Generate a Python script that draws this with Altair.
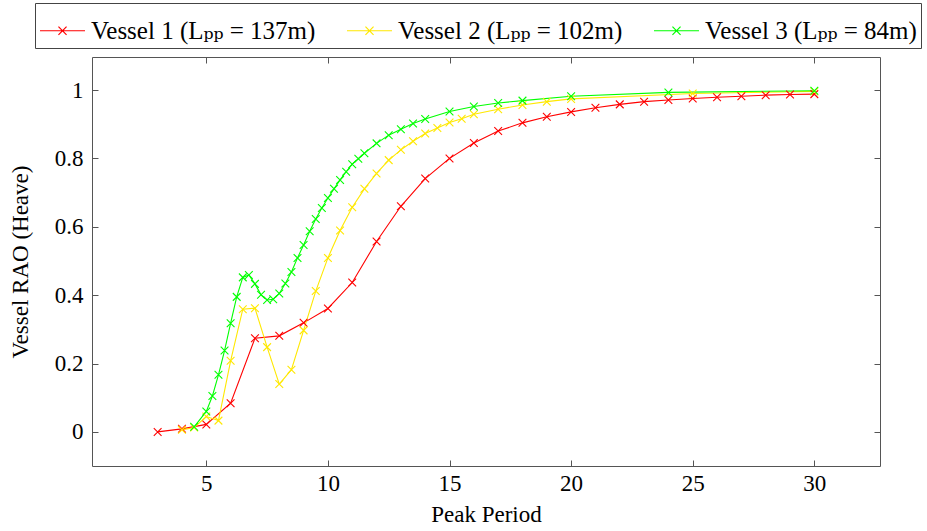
import altair as alt
import pandas as pd

# ---- data ----
v1_period = [3, 4, 5, 6, 7, 8, 9, 10, 11, 12, 13, 14, 15, 16, 17, 18, 19, 20,
             21, 22, 23, 24, 25, 26, 27, 28, 29, 30]
v1_rao = [0.0, 0.009, 0.022, 0.084, 0.274, 0.281, 0.319, 0.361, 0.437, 0.557,
          0.660, 0.741, 0.800, 0.845, 0.880, 0.904, 0.922, 0.936, 0.948, 0.958,
          0.966, 0.971, 0.975, 0.979, 0.982, 0.985, 0.987, 0.988]

v2_period = [4, 4.5, 5, 5.5, 6, 6.5, 7, 7.5, 8, 8.5, 9, 9.5, 10, 10.5, 11, 11.5,
             12, 12.5, 13, 13.5, 14, 14.5, 15, 15.5, 16, 17, 18, 19, 20, 25, 30]
v2_rao = [0.006, 0.013, 0.045, 0.033, 0.208, 0.359, 0.362, 0.248, 0.140, 0.182,
          0.297, 0.412, 0.509, 0.589, 0.657, 0.711, 0.756, 0.795, 0.825, 0.850,
          0.873, 0.889, 0.905, 0.916, 0.929, 0.944, 0.956, 0.966, 0.974, 0.990,
          0.996]

v3_period = [4.5, 5, 5.25, 5.5, 5.75, 6, 6.25, 6.5, 6.75, 7, 7.25, 7.5, 7.75, 8,
             8.25, 8.5, 8.75, 9, 9.25, 9.5, 9.75, 10, 10.25, 10.5, 10.75, 11,
             11.25, 11.5, 12, 12.5, 13, 13.5, 14, 15, 16, 17, 18, 20, 24, 30]
v3_rao = [0.015, 0.060, 0.105, 0.167, 0.238, 0.318, 0.395, 0.452, 0.459, 0.433,
          0.401, 0.386, 0.388, 0.405, 0.434, 0.468, 0.509, 0.547, 0.587, 0.623,
          0.655, 0.684, 0.711, 0.737, 0.761, 0.783, 0.799, 0.815, 0.844, 0.868,
          0.885, 0.902, 0.915, 0.937, 0.952, 0.962, 0.969, 0.982, 0.993, 0.998]

series_names = ["Vessel 1 (Lₚₚ = 137m)", "Vessel 2 (Lₚₚ = 102m)",
                "Vessel 3 (Lₚₚ = 84m)"]
series_colors = ["#ff0000", "#ffe800", "#00ff00"]

x_ticks = [5, 10, 15, 20, 25, 30]
y_ticks = [0, 0.2, 0.4, 0.6, 0.8, 1]

rows = []
for order, (name, ps, rs) in enumerate(zip(series_names,
                                           [v1_period, v2_period, v3_period],
                                           [v1_rao, v2_rao, v3_rao])):
    for p, r in zip(ps, rs):
        rows.append({"series": name, "period": p, "rao": r, "order": order})
df = pd.DataFrame(rows)

FONT = "Liberation Serif, DejaVu Serif, serif"
FS = 23
LFS = 25
FRAME = "#555555"
XPATH = "M-1,-1L1,1M-1,1L1,-1"
LEGEND_SYMBOL = "M-1,0H1M-0.18,-0.18L0.18,0.18M-0.18,0.18L0.18,-0.18"

xscale = alt.Scale(domain=[0.3, 32.7], nice=False, zero=False)
yscale = alt.Scale(domain=[-0.0997, 1.0966], nice=False, zero=False)

color_scale = alt.Scale(domain=series_names, range=series_colors)

base = alt.Chart(df)

lines = base.mark_line(strokeWidth=1.1).encode(
    x=alt.X("period:Q", scale=xscale, title="Peak Period",
            axis=alt.Axis(orient="bottom", values=x_ticks, format="d",
                          offset=-6, tickSize=6, domain=False, grid=False,
                          tickColor=FRAME, labelPadding=6, titlePadding=8)),
    y=alt.Y("rao:Q", scale=yscale, title="Vessel RAO (Heave)",
            axis=alt.Axis(orient="left", values=y_ticks, format="~g",
                          offset=-6, tickSize=6, domain=False, grid=False,
                          tickColor=FRAME, labelPadding=9, titlePadding=22)),
    color=alt.Color("series:N", scale=color_scale, sort=series_names,
                    legend=alt.Legend(
                        title=None, orient="none", legendX=-57, legendY=-54,
                        direction="horizontal", symbolType=LEGEND_SYMBOL,
                        symbolSize=2025, symbolStrokeWidth=1.2,
                        strokeColor="#444444", fillColor="white", padding=4,
                        columnPadding=28, labelOffset=5, labelFont=FONT,
                        labelFontSize=LFS, labelColor="black", labelLimit=400)),
    order=alt.Order("order:Q"),
)

points = base.mark_point(shape=XPATH, size=60, filled=False, strokeWidth=1.1,
                         opacity=1).encode(
    x=alt.X("period:Q", scale=xscale, axis=None),
    y=alt.Y("rao:Q", scale=yscale, axis=None),
    color=alt.Color("series:N", scale=color_scale, sort=series_names,
                    legend=None),
)

frame_axes = base.mark_point(opacity=0).encode(
    x=alt.X("period:Q", scale=xscale, title=None,
            axis=alt.Axis(orient="top", values=x_ticks, labels=False,
                          offset=-6, tickSize=6, domain=False, grid=False,
                          tickColor=FRAME)),
    y=alt.Y("rao:Q", scale=yscale, title=None,
            axis=alt.Axis(orient="right", values=y_ticks, labels=False,
                          offset=-6, tickSize=6, domain=False, grid=False,
                          tickColor=FRAME)),
)

chart = alt.layer(lines, points, frame_axes).resolve_axis(
    x="independent", y="independent"
).properties(
    width=788, height=409,
    padding={"left": 92, "top": 57, "right": 47, "bottom": 65},
    autosize=alt.AutoSizeParams(type="none"),
    background="white",
).configure_view(
    stroke=FRAME, strokeWidth=1
).configure_axis(
    labelFont=FONT, labelFontSize=FS, labelColor="black",
    titleFont=FONT, titleFontSize=FS, titleColor="black", titleFontWeight="normal",
).configure_legend(
    labelFont=FONT
)

chart.save("out.html", embed_options={"renderer": "svg", "actions": False})
